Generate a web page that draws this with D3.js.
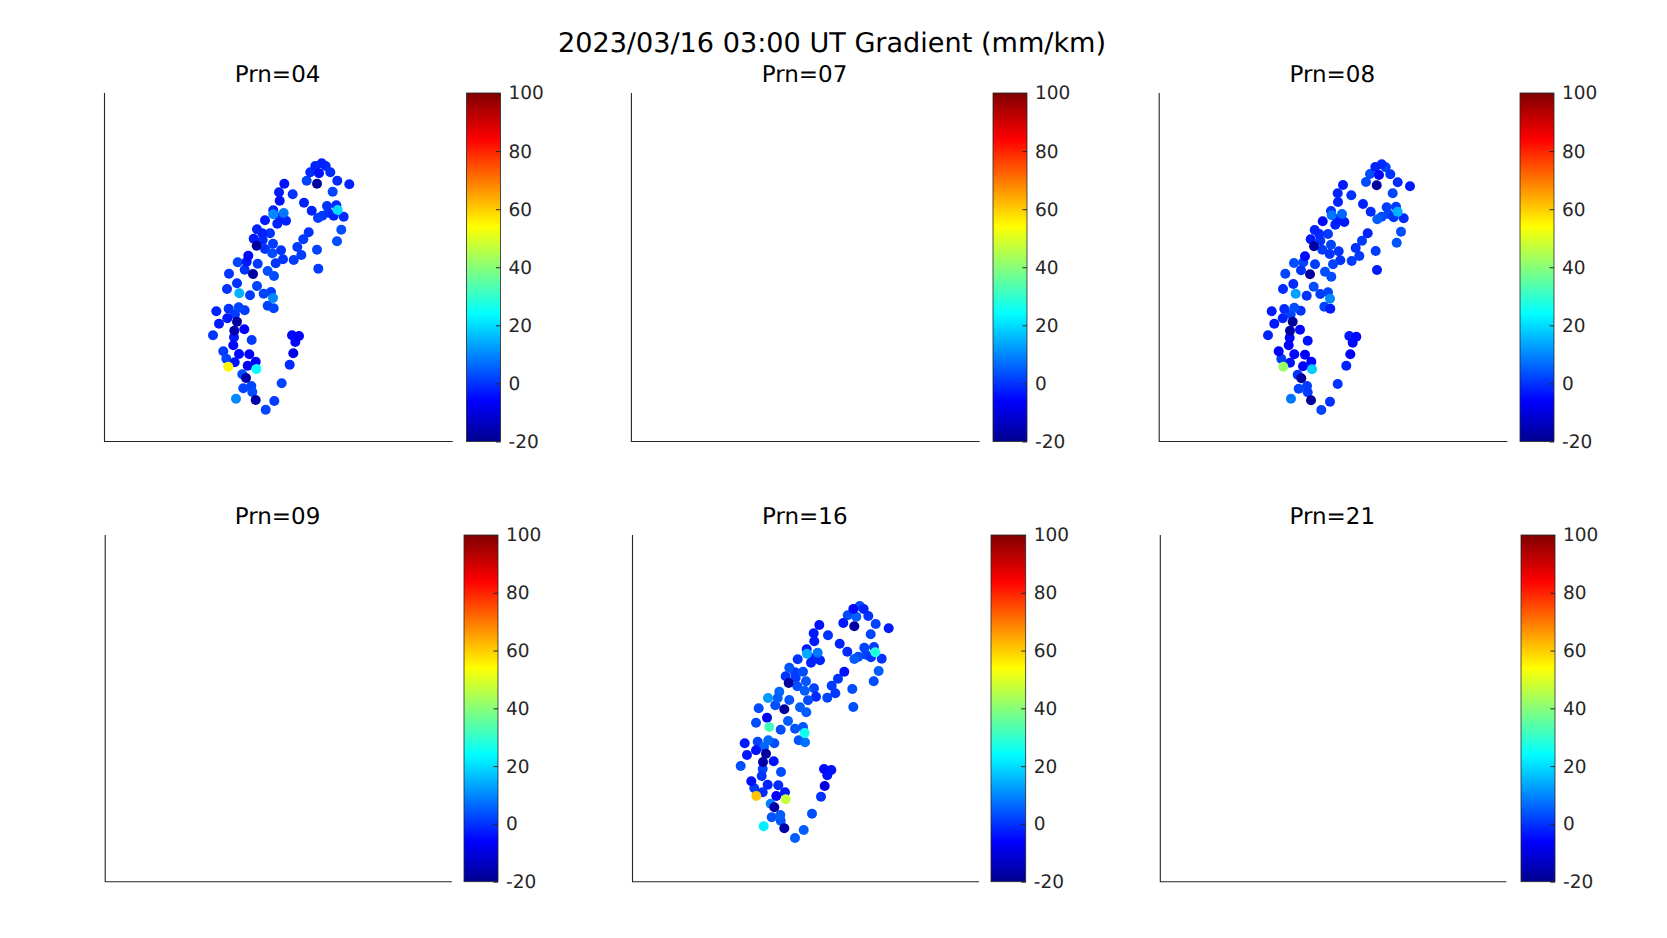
<!DOCTYPE html>
<html><head><meta charset="utf-8">
<script src="https://cdn.jsdelivr.net/npm/d3@7"></script>
<style>html,body{margin:0;padding:0;background:#fff}svg{display:block}text{font-family:"DejaVu Sans",sans-serif;text-rendering:geometricPrecision}</style>
</head><body><svg id="c" width="1667" height="938"></svg>
<script>
const figureTitle = "2023/03/16 03:00 UT Gradient (mm/km)";
const prns = ["04","07","08","09","16","21"];
const colorTicks = [-20,0,20,40,60,80,100];
// map position in unlabelled axis units, one value array per satellite
const xPrn04 = [217.2,221.2,210.8,214.5,205.8,225.8,202.2,212.5,232.8,244.8,228.2,179.8,174.5,188.2,175.2,199.5,207.2,222.5,231.8,233.2,223.8,229.2,217.8,213.5,239.2,236.8,232.5,168.8,168.8,179.2,160.5,172.8,181.5,175.5,152.5,157.8,165.5,149.2,158.2,152.2,168.5,204.2,198.8,192.8,212.5,196.8,189.2,160.5,176.5,167.8,178.5,171.2,213.8,143.8,142.2,133.2,153.2,140.2,124.5,148.5,163.2,169.5,132.5,122.5,152.5,134.8,145.5,159.2,166.5,168.5,163.2,169.2,124.2,134.2,140.2,111.8,130.5,122.8,114.5,132.5,139.8,129.8,108.5,129.5,147.2,128.8,187.5,194.5,190.8,188.8,185.2,118.8,134.5,144.8,121.8,130.2,151.2,143.2,123.8,151.8,137.8,141.5,177.2,146.8,138.8,147.8,131.5,151.2,169.8,161.2];
const yPrn04 = [278.7,276,276,268.7,269.7,269.7,261.3,258.3,261.3,257.7,250.3,258.3,249.7,247.7,241.3,239.3,231.3,236,236.7,232,229.3,226.3,226.3,224,225.3,212.3,200.7,231.7,227.7,229,221.7,218.3,221.3,224.7,212.7,208.7,208.7,203.3,202,196.3,198.3,209.7,202.7,195,192.3,187,182,193,191.7,188.7,182.7,178.7,173.3,186.3,180.3,179.7,178.3,172.3,168.3,168,171,166,158.7,153,156,148.7,146.7,148.3,150,144,136.3,133.7,133.3,134.7,131.7,130.7,127.7,123.7,118.3,120.3,112.7,111.3,106.7,104.7,102,96.7,106.7,106,100,88.7,77.3,90.7,88,87.7,83.3,79.7,80.3,76.3,75.3,73,67.7,64,58.7,56,53.7,50,43.3,42,41,32.3];
const valPrn04 = [-2,-1,-2,-4,-1,-1,2,-18,-1,-2,2,-4,-3,0,-4,-2,-2,0,-1,20,0,-2,1,1,-1,3,3,-2,10,8,-3,-2,-2,-2,-2,-2,0,-3,-1,-18,1,0,1,1,2,1,1,0,0,3,0,0,1,-5,-3,2,1,0,0,-18,3,3,0,0,2,15,1,2,1,10,2,2,0,2,1,-2,1,-3,-3,-18,-6,-16,0,-3,1,-5,-5,-6,-5,-9,-1,1,-5,-6,2,-4,-7,-7,55,24,3,-17,2,2,2,3,10,-17,1,2];
const xPrn07 = [], yPrn07 = [], valPrn07 = [];
const xPrn08 = [219.7,223.7,213.3,217,208,228.3,204,214.7,235.7,248,230.7,181,175.7,189.3,176,201,208.7,224.7,234,235.7,226.3,231.7,219.7,215.3,241.7,239,234.7,169,169.7,180,160.7,173.3,182.3,175.3,152.7,157.3,166,148.7,158.3,152,169,205.7,200,193.7,213.7,197.3,189.7,160.3,176.7,167.7,178.3,171,215,143,141.3,132,153,139,123.3,148,163,169.3,131.3,121,151.7,133.7,144.7,158.3,166,168,162.3,168.3,122.3,132.3,138.7,109.7,128.7,120.7,112.3,130.7,138,128,106,127.7,145.7,126.7,187.3,194.3,190.7,188.3,184.3,116.7,132.3,143,119.3,128,149.3,141,121.3,150,135.7,139.3,175.7,145,136.7,145.7,129,149,168,159.3];
const yPrn08 = [277.7,274.7,275,267,268,267.7,260,256.7,259.7,255.7,248.7,257,248.7,246.7,240,238,230.3,234.7,235.3,230.3,228,224.7,225.3,222.7,223.7,210.3,199.3,231,226.7,228,220.7,217.3,220,222.7,212,208,208,202.7,201.3,195.7,197.3,208.7,201.3,194,191,186,181,192.3,190.7,188,181.7,177.7,172,185.7,179.7,179,177.7,171.7,168.3,167.7,170.3,165.3,158,153,155.3,148.3,146.3,148,149.7,143.3,135.3,133.3,133,134.3,131.3,130.7,127.7,123.7,118.3,120.3,112.3,111.3,106.7,104.3,101.3,96.7,106,105.3,99.3,87.7,76.3,90.7,87.7,87.3,83.3,79.3,80.3,75.7,75.3,72.7,67.3,63.7,58,56,53.3,49.7,43.3,41.7,40.3,32];
const valPrn08 = [-1,2,-2,-5,3,0,3,-18,-1,-3,2,-3,-2,0,-2,-2,-1,1,1,15,2,0,3,5,-1,3,4,0,8,6,-5,-2,-3,-3,-2,-1,1,-3,0,-18,2,-2,1,0,1,1,1,1,0,0,0,2,-3,-5,2,3,1,0,2,-18,3,3,-1,-1,3,13,0,1,2,10,2,-3,-1,3,0,-3,2,-2,-3,-18,-5,-17,-2,-5,-4,-6,-3,-5,-5,-7,-2,-6,-5,-6,1,-4,-6,-6,42,18,0,-18,0,1,2,1,8,-18,0,2];
const xPrn09 = [], yPrn09 = [], valPrn09 = [];
const xPrn16 = [225.7,229.7,219.3,222.3,213.7,234.3,209.3,220.3,241.7,254.7,236.7,185.3,179.7,194,180.3,205.7,213.3,230.3,240,241.3,232,237,224.3,220.3,247.7,244.7,239.7,172.7,173,183.7,163.7,177,186,179.3,155.3,161,169,151.7,161.7,154.7,172,210.3,204,197.7,218.3,201.3,193.3,163.3,180,170.7,182,174,219.3,145.3,143.7,134,155.3,141.3,124.7,150.3,166,172.3,133,122,154,135.3,146.7,161,169,170.7,164.7,171,123.7,134.3,140.3,110.7,130,122,113,132,139.7,129,106.7,128.7,147,127.7,190,197.3,193.3,190.7,187,117.3,133.7,144.3,120.3,128.7,151,142.3,122.3,151.7,136.7,140.3,178,146.3,137.7,146.7,129.7,150.3,169.7,161];
const yPrn16 = [277.5,274.5,274.5,266.8,268.2,267.5,260.5,257.2,259.5,255.2,249.2,258.5,250.2,248.2,242.2,239.8,231.8,235.8,236.5,231.2,228.8,226.2,226.8,224.5,224.8,212.5,202.2,234.2,229.8,230.8,224.2,220.8,223.2,225.2,215.8,211.2,211.8,207.2,205.8,200.5,202.2,211.8,204.8,197.8,194.5,190.2,185.8,197.2,195.2,192.8,186.8,183.2,176.5,191.8,185.5,185.5,183.5,178.2,175.2,174.2,176.2,171.2,165.8,160.8,162.5,156.5,153.8,154.8,156.5,150.5,143.2,141.2,141.8,143.2,140.2,140.2,136.5,133.2,128.5,129.8,122.2,121.5,117.5,114.5,111.5,107.5,114.5,113.5,108.2,97.5,86.8,102.2,98.8,98.2,95.2,91.2,91.2,87.5,87.5,84.2,79.8,76.2,69.8,68.5,66.2,62.8,57.2,55.2,53.5,45.5];
const valPrn16 = [3,-2,-5,5,3,0,-3,-18,2,-3,2,-4,-3,0,-3,-2,-1,2,1,28,2,0,3,5,0,5,3,-3,14,8,0,-2,-2,-2,4,1,3,0,1,-18,4,-4,0,1,3,1,2,3,2,5,-1,3,3,6,5,12,4,3,3,-18,5,5,-6,3,5,32,3,4,4,26,4,7,2,6,3,-3,6,-4,-3,-18,-4,-17,3,2,3,0,-5,-4,-4,-10,0,-4,-2,-1,1,-1,-3,-6,61,47,9,-17,3,5,4,4,22,-17,5,5];
const xPrn21 = [], yPrn21 = [], valPrn21 = [];

const seriesX = [xPrn04,xPrn07,xPrn08,xPrn09,xPrn16,xPrn21];
const seriesY = [yPrn04,yPrn07,yPrn08,yPrn09,yPrn16,yPrn21];
const seriesV = [valPrn04,valPrn07,valPrn08,valPrn09,valPrn16,valPrn21];

// layout: [axes left, right, top, bottom, colorbar left, right, data origin x, data origin y]
const layout = [
 [104.5,452.7,93,441.5,466.5,500.5,104.5,442],
 [631.4,979.6,93,441.5,993,1027,634,442],
 [1159.2,1507.3,93,441.5,1520,1554,1162,442],
 [105.2,451.8,535,881.7,464,498,105.2,883.5],
 [632.5,979,535,881.7,991,1025.7,634,883.5],
 [1160.3,1506.3,535,881.7,1521,1555,1160.3,883.5]
];
const ink = "#262626";
const jetStops = [[0,"#00008f"],[0.117,"#0000ff"],[0.367,"#00ffff"],[0.617,"#ffff00"],[0.867,"#ff0000"],[1,"#800000"]];
const jet = d3.scaleLinear().domain(jetStops.map(d=>-20+120*d[0])).range(jetStops.map(d=>d[1])).clamp(true);

const svg = d3.select("#c");
svg.append("rect").attr("width",1667).attr("height",938).attr("fill","#fff");
const grad = svg.append("defs").append("linearGradient").attr("id","jet").attr("x1",0).attr("x2",0).attr("y1",1).attr("y2",0);
jetStops.forEach(s=>grad.append("stop").attr("offset",s[0]).attr("stop-color",s[1]));

svg.append("text").attr("x",832).attr("y",51.5).attr("text-anchor","middle").attr("font-size",27.1).attr("fill","#000").text(figureTitle);

prns.forEach((prn,i)=>{
  const [l,r,t,b,cl,cr,ox,oy] = layout[i];
  const g = svg.append("g");
  const x = d3.scaleLinear().domain([0,348]).range([ox,ox+348]);
  const y = d3.scaleLinear().domain([0,348]).range([oy,oy-348]);
  const c = d3.scaleLinear().domain([-20,100]).range([b,t]);
  g.append("path").attr("d",`M${l},${t}V${b}H${r}`).attr("fill","none").attr("stroke",ink).attr("stroke-width",1.1);
  g.append("text").attr("x",(l+r)/2-1).attr("y",t-11).attr("text-anchor","middle").attr("font-size",23).attr("fill","#000").text("Prn="+prn);
  const pts = d3.range(seriesX[i].length).sort((a,b)=>Math.abs(seriesV[i][a]-1)-Math.abs(seriesV[i][b]-1));
  g.selectAll("circle").data(pts).join("circle")
    .attr("cx",k=>x(seriesX[i][k])).attr("cy",k=>y(seriesY[i][k])).attr("r",5)
    .attr("fill",k=>jet(seriesV[i][k]));
  g.append("rect").attr("x",cl).attr("y",t).attr("width",cr-cl).attr("height",b-t)
    .attr("fill","url(#jet)").attr("stroke",ink).attr("stroke-width",0.8);
  const axis = d3.axisRight(c).tickValues(colorTicks).tickFormat(d3.format("d")).tickSizeInner(-4.5).tickSizeOuter(0).tickPadding(8);
  const ag = g.append("g").attr("transform",`translate(${cr},0)`).call(axis);
  ag.select(".domain").remove();
  ag.selectAll("line").attr("stroke",ink);
  ag.selectAll("text").attr("font-size",18.5).attr("fill",ink).attr("font-family",'"DejaVu Sans",sans-serif').text(d=>d<0?"-"+Math.abs(d):d);
});
</script></body></html>
